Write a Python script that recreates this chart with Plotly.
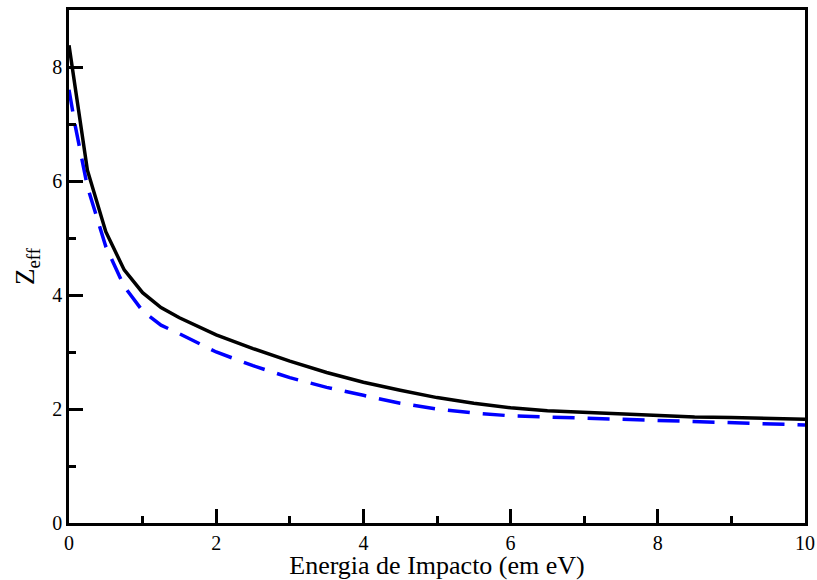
import plotly.graph_objects as go

# Solid black curve
energy_solid = [0, 0.125, 0.25, 0.5, 0.75, 1.0, 1.25, 1.5, 2, 2.5, 3, 3.5, 4, 4.5, 5,
                5.5, 6, 6.5, 7, 7.5, 8, 8.5, 9, 9.5, 10]
zeff_solid = [8.38, 7.25, 6.19, 5.11, 4.44, 4.04, 3.78, 3.6, 3.3, 3.06, 2.84, 2.64, 2.47,
              2.33, 2.2, 2.1, 2.02, 1.97, 1.94, 1.91, 1.88, 1.86, 1.85, 1.84, 1.82]

# Dashed blue curve
energy_dashed = [0, 0.08, 0.25, 0.5, 0.75, 1.0, 1.25, 1.5, 2, 2.5, 3, 3.5, 4, 4.5, 5,
                 5.5, 6, 6.5, 7, 7.5, 8, 8.5, 9, 9.5, 10]
zeff_dashed = [7.6, 7.0, 5.9, 4.85, 4.15, 3.72, 3.47, 3.32, 3.0, 2.76, 2.55, 2.38, 2.24,
               2.1, 2.0, 1.93, 1.88, 1.86, 1.83, 1.81, 1.79, 1.77, 1.76, 1.74, 1.72]

x_ticks = [0, 2, 4, 6, 8, 10]
y_ticks = [0, 2, 4, 6, 8]

fig = go.Figure()
fig.add_trace(go.Scatter(x=energy_dashed, y=zeff_dashed, mode="lines",
                         line=dict(color="#0000ff", width=3.5, dash="22px,13px"),
                         showlegend=False))
fig.add_trace(go.Scatter(x=energy_solid, y=zeff_solid, mode="lines",
                         line=dict(color="black", width=3.5),
                         showlegend=False))

font_family = "Liberation Serif, Times New Roman, serif"
axis_common = dict(
    showgrid=False, zeroline=False, showline=True, linecolor="black", linewidth=2.5,
    mirror=True, ticks="inside", ticklen=14, tickwidth=2.5, tickcolor="black",
    tickfont=dict(family=font_family, size=20, color="black"),
    automargin=False,
)

fig.update_xaxes(range=[0, 10], tickvals=x_ticks, ticktext=[str(v) for v in x_ticks],
                 minor=dict(ticks="inside", ticklen=7, tickwidth=2.5, tickcolor="black", dtick=1),
                 ticklabelstandoff=0,
                 title=dict(text="Energia de Impacto (em eV)", standoff=3,
                            font=dict(family=font_family, size=26, color="black")),
                 **axis_common)
fig.update_yaxes(range=[0, 9], tickvals=y_ticks, ticktext=[str(v) for v in y_ticks],
                 minor=dict(ticks="inside", ticklen=7, tickwidth=2.5, tickcolor="black", dtick=1),
                 title=dict(text="Z<sub>eff</sub>", standoff=10,
                            font=dict(family=font_family, size=27, color="black")),
                 **axis_common)

fig.update_layout(
    width=817, height=580,
    margin=dict(l=69, r=12, t=10, b=57, autoexpand=False),
    plot_bgcolor="white", paper_bgcolor="white",
)

fig.write_html("out.html", config={"displayModeBar": False},
               post_script="document.body.style.margin='0';")
